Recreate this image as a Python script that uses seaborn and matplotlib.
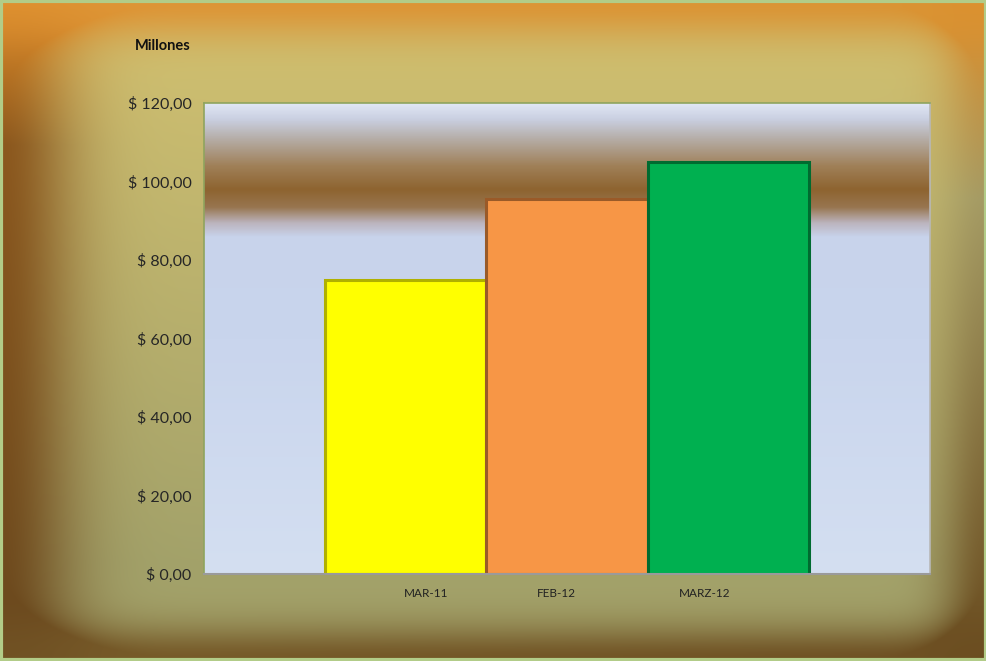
import numpy as np
import pandas as pd
import matplotlib
matplotlib.use("Agg")
import matplotlib.pyplot as plt
import seaborn as sns
from matplotlib.patches import Rectangle
from matplotlib.ticker import FuncFormatter

# ---- data ----
periodos = ["MAR-11", "FEB-12", "MARZ-12"]
valores = [75.0, 95.5, 105.0]
colores = ["#FFFF00", "#F79646", "#00B050"]
bordes = ["#B0B000", "#9A5A28", "#006B30"]
y_ticks = [0, 20, 40, 60, 80, 100, 120]
grupo = ["Total", "Total", "Total"]

df = pd.DataFrame({"grupo": grupo, "periodo": periodos, "valor": valores})

sns.set_theme(style="white")
plt.rcParams["font.family"] = ["Lato", "DejaVu Sans"]

W, H = 987, 661
fig = plt.figure(figsize=(W / 100, H / 100), dpi=100)

# ---- figure background gradient ----
bg = fig.add_axes([0, 0, 1, 1], zorder=-10)
yy, xx = np.mgrid[0:H, 0:W].astype(float)
fy = yy / H
fx = xx / W

def lerp(c1, c2, t):
    t = np.clip(t, 0, 1)[..., None]
    return np.array(c1) * (1 - t) + np.array(c2) * t

center = lerp((205, 190, 112), (163, 162, 106), (fy - 0.1) / 0.75)
top_e = lerp((222, 150, 55), (218, 148, 52), fx)
left_e = np.where((fy < 0.22)[..., None], lerp((225, 140, 40), (140, 88, 30), fy / 0.22),
                  lerp((140, 88, 30), (105, 72, 30), (fy - 0.22) / 0.78))
right_e = np.where((fy < 0.3)[..., None], lerp((222, 142, 42), (165, 155, 100), fy / 0.3),
                   lerp((165, 155, 100), (105, 75, 30), (fy - 0.3) / 0.7) )
bot_e = lerp((120, 92, 42), (110, 80, 35), fx)

w_top = np.exp(-(yy / 38.0) ** 2)
w_left = np.exp(-(xx / 75.0) ** 2)
w_right = np.exp(-((W - xx) / 45.0) ** 2)
w_bot = np.exp(-((H - yy) / 35.0) ** 2)
wsum = w_top + w_left + w_right + w_bot
edge = (top_e * w_top[..., None] + left_e * w_left[..., None] +
        right_e * w_right[..., None] + bot_e * w_bot[..., None]) / np.maximum(wsum, 1e-9)[..., None]
a = np.clip(wsum, 0, 1)[..., None]
img = center * (1 - a) + edge * a
bg.imshow(img.astype(np.uint8), aspect="auto", extent=[0, 1, 0, 1], origin="upper")
bg.set_axis_off()

# figure border
fig.patches.append(Rectangle((0.0015, 0.002), 0.997, 0.996, transform=fig.transFigure,
                             fill=False, edgecolor="#B2CC88", linewidth=3, zorder=5))

# ---- plot area ----
ax = fig.add_axes([204 / W, 1 - 574 / H, 726 / W, 471 / H])
ax.set_xlim(-2.5, 2.5)
ax.set_ylim(0, 120)

stops = [
    (120, (226, 232, 246)),
    (116, (202, 208, 226)),
    (111, (182, 174, 168)),
    (104, (160, 128, 88)),
    (98, (142, 100, 48)),
    (93.5, (152, 118, 80)),
    (89.5, (188, 180, 190)),
    (86, (200, 211, 235)),
    (60, (201, 213, 237)),
    (0, (212, 223, 241)),
]
vals = np.linspace(120, 0, 600)
sv = [s[0] for s in stops][::-1]
cols = np.array([s[1] for s in stops][::-1], dtype=float)
grad = np.stack([np.interp(vals, sv, cols[:, k]) for k in range(3)], axis=-1)
grad = np.repeat(grad[:, None, :], 2, axis=1).astype(np.uint8)
ax.imshow(grad, aspect="auto", extent=[-2.5, 2.5, 0, 120], origin="upper", zorder=0)

sns.barplot(data=df, x="grupo", y="valor", hue="periodo", palette=colores,
            hue_order=periodos, width=3.33, dodge=True, legend=False, ax=ax,
            saturation=1, zorder=2)
ax.set_xlim(-2.5, 2.5)
ax.set_ylim(0, 120)

for patch, ec in zip(ax.patches, bordes):
    patch.set_edgecolor(ec)
    patch.set_linewidth(2.2)
    patch.set_joinstyle("miter")

ax.set_xlabel("")
ax.set_ylabel("")
ax.set_xticks([-0.97, -0.07, 0.95])
ax.set_xticklabels(periodos, fontsize=8.5, color="#222222")
ax.tick_params(axis="x", length=0, pad=10)
ax.set_xticks([-2.5, 2.5], minor=True)
ax.tick_params(axis="x", which="minor", length=5, color="#999999", width=1)
ax.set_yticks(y_ticks)
ax.yaxis.set_major_formatter(FuncFormatter(lambda v, p: "$ {:.2f}".format(v).replace(".", ",")))
ax.tick_params(axis="y", length=0, pad=9, labelsize=11.5, labelcolor="#262626")

for s in ["top", "left", "right"]:
    ax.spines[s].set_color("#8FA45E")
    ax.spines[s].set_linewidth(1.2)
ax.spines["bottom"].set_color("#9A9A9A")
ax.spines["bottom"].set_linewidth(1.5)
ax.spines["right"].set_color("#B8B8B8")

fig.text(135 / W, 1 - 46 / H, "Millones", fontsize=10.5, fontweight="bold",
         color="#111111", va="center", ha="left")

fig.savefig("out.png", dpi=100)
